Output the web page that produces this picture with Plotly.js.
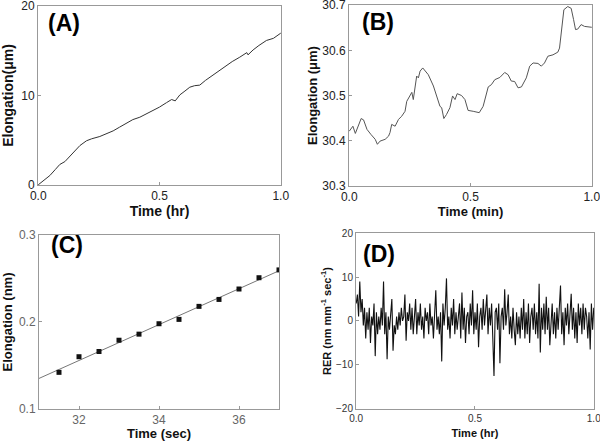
<!DOCTYPE html>
<html>
<head>
<meta charset="utf-8">
<script src="https://cdn.plot.ly/plotly-3.0.1.min.js"></script>
<style>html,body{margin:0;padding:0;background:#fff;}#chart{width:600px;height:441px;}</style>
</head>
<body>
<div id="chart"></div>
<script>
// Panel A: elongation over one hour
const timeA = [0, 0.02, 0.048, 0.07, 0.089, 0.11, 0.13, 0.15, 0.172, 0.199, 0.22, 0.254, 0.28, 0.309, 0.335, 0.364, 0.39, 0.419, 0.445, 0.474, 0.5, 0.529, 0.55, 0.565, 0.584, 0.605, 0.625, 0.645, 0.666, 0.69, 0.721, 0.75, 0.776, 0.8, 0.831, 0.86, 0.865, 0.886, 0.91, 0.941, 0.97, 1.0];
const elongA = [0, 0.45, 1.04, 1.7, 2.28, 2.6, 3.17, 3.7, 4.4, 4.93, 5.15, 5.41, 5.7, 6.04, 6.45, 6.9, 7.3, 7.57, 7.95, 8.28, 8.7, 9.2, 9.55, 9.4, 10.07, 10.5, 10.93, 11.1, 11.16, 11.7, 12.31, 12.85, 13.4, 13.8, 14.29, 14.8, 14.55, 15.1, 15.6, 16.16, 16.4, 16.98];

// Panel B: elongation over one minute
const timeB = [0.000, 0.015, 0.025, 0.034, 0.049, 0.059, 0.073, 0.089, 0.107, 0.116, 0.127, 0.148, 0.162, 0.168, 0.175, 0.189, 0.203, 0.216, 0.230, 0.237, 0.251, 0.258, 0.264, 0.271, 0.278, 0.285, 0.292, 0.303, 0.312, 0.326, 0.347, 0.360, 0.374, 0.381, 0.390, 0.401, 0.415, 0.426, 0.436, 0.445, 0.463, 0.477, 0.490, 0.511, 0.536, 0.552, 0.562, 0.573, 0.586, 0.600, 0.621, 0.641, 0.655, 0.668, 0.682, 0.696, 0.710, 0.723, 0.730, 0.744, 0.758, 0.778, 0.792, 0.805, 0.819, 0.840, 0.860, 0.867, 0.874, 0.885, 0.901, 0.915, 0.925, 0.933, 0.942, 0.956, 0.970, 1.000];
const elongB = [30.421, 30.432, 30.416, 30.429, 30.449, 30.446, 30.425, 30.414, 30.403, 30.392, 30.399, 30.403, 30.410, 30.418, 30.436, 30.432, 30.447, 30.454, 30.465, 30.487, 30.499, 30.507, 30.491, 30.521, 30.543, 30.539, 30.554, 30.561, 30.554, 30.546, 30.521, 30.499, 30.476, 30.473, 30.449, 30.458, 30.473, 30.499, 30.491, 30.504, 30.500, 30.491, 30.467, 30.465, 30.462, 30.476, 30.499, 30.519, 30.524, 30.535, 30.540, 30.551, 30.546, 30.532, 30.531, 30.517, 30.519, 30.532, 30.539, 30.565, 30.572, 30.571, 30.565, 30.572, 30.587, 30.590, 30.596, 30.605, 30.638, 30.690, 30.697, 30.693, 30.668, 30.646, 30.647, 30.657, 30.653, 30.651];

// Panel C: elongation over seconds with linear fit
const timeC = [31.5, 32, 32.5, 33, 33.5, 34, 34.5, 35, 35.5, 36, 36.5, 37];
const elongC = [0.142, 0.160, 0.166, 0.179, 0.186, 0.198, 0.203, 0.218, 0.226, 0.238, 0.251, 0.260];
const fitTimeC = [31, 37];
const fitElongC = [0.135, 0.259];

// Panel D: RER over one hour
const timeD = [0,0.005,0.01,0.015,0.02,0.025,0.03,0.035,0.04,0.045,
  0.05,0.055,0.06,0.065,0.07,0.075,0.08,0.085,0.09,0.095,
  0.1,0.105,0.11,0.115,0.12,0.125,0.13,0.135,0.14,0.145,
  0.15,0.155,0.16,0.165,0.17,0.175,0.18,0.185,0.19,0.195,
  0.2,0.205,0.21,0.215,0.22,0.225,0.23,0.235,0.24,0.245,
  0.25,0.255,0.26,0.265,0.27,0.275,0.28,0.285,0.29,0.295,
  0.3,0.305,0.31,0.315,0.32,0.325,0.33,0.335,0.34,0.345,
  0.35,0.355,0.36,0.365,0.37,0.375,0.38,0.385,0.39,0.395,
  0.4,0.405,0.41,0.415,0.42,0.425,0.43,0.435,0.44,0.445,
  0.45,0.455,0.46,0.465,0.47,0.475,0.48,0.485,0.49,0.495,
  0.5,0.505,0.51,0.515,0.52,0.525,0.53,0.535,0.54,0.545,
  0.55,0.555,0.56,0.565,0.57,0.575,0.58,0.585,0.59,0.595,
  0.6,0.605,0.61,0.615,0.62,0.625,0.63,0.635,0.64,0.645,
  0.65,0.655,0.66,0.665,0.67,0.675,0.68,0.685,0.69,0.695,
  0.7,0.705,0.71,0.715,0.72,0.725,0.73,0.735,0.74,0.745,
  0.75,0.755,0.76,0.765,0.77,0.775,0.78,0.785,0.79,0.795,
  0.8,0.805,0.81,0.815,0.82,0.825,0.83,0.835,0.84,0.845,
  0.85,0.855,0.86,0.865,0.87,0.875,0.88,0.885,0.89,0.895,
  0.9,0.905,0.91,0.915,0.92,0.925,0.93,0.935,0.94,0.945,
  0.95,0.955,0.96,0.965,0.97,0.975,0.98,0.985,0.99,0.995,1.0];
const rerD = [4, 6, 1, 9, 2, 5, -1, 3, -4, 2,
  -2, 3, -5, 1, -1, 4, -8, 2, -3, 1,
  -2, 3, -1, 9, -3, 2, -8.7, 1, -2, 3,
  5, -6.8, -1, -3, 1, -2, 2, -1, 3, 0,
  1, 6, -4.5, 2, 0, 4, -2, 3, -3, 1,
  5, -3, 2, -1, 4, -2, 1, -4, 3, 0,
  2, -3, 4, -1, 1, -4, 3, 7, -2, 1,
  -3, 2, -9.2, 4, -1, 3, 9.7, -2, 1, -4,
  3, -1, 5, -3, 2, -2, 1, 4, -4, 6.5,
  -2, 3, -5, 1, 2, -3, 4, -1, 7, -3,
  2, -2, 4, -6, 1, 3, -2, 5, -1, 2,
  6, -3, 3, -1, 4, -4, -12.5, 2, 3, -2,
  4, -9.6, 1, 3, -2, 7.2, -1, 2, 6, -3,
  1, -4, 3, -2, -5.5, 2, -3, 1, -4, 3,
  -2, 5, -4, 2, -3, 4, -5, 1, 3, -2,
  4, -3, 2, -4, 8.5, -7.2, 3, -2, 4, -3,
  5.5, -2, 3, -5.5, 1, 4, -3, 2, -4, 3,
  -2, 4, 8.1, -3, 2, -5.5, 3, -1, 4, -3,
  1, 6.2, -2, 3, -4, 2, -5, 4, -1, 3,
  -3, 4, -2, 3, 1, -4, 2, -6.5, 4, -2, 3];

const FONT = 'Liberation Sans, Arial, sans-serif';
const frameColor = '#999999';

function ax(extra) {
  return Object.assign({
    showgrid: false, zeroline: false, showline: true, mirror: true,
    linecolor: frameColor, linewidth: 1, ticks: 'inside', ticklen: 3,
    tickcolor: frameColor, automargin: false, ticklabeloverflow: 'allow',
    tickfont: {family: FONT, size: 12, color: '#222'}
  }, extra);
}
function ttl(text, size, standoff) {
  return {text: text, font: {family: FONT, size: size, color: '#111', weight: 'bold'}, standoff: standoff};
}
const grayTick = {family: FONT, size: 12, color: '#666'};
const smallTick = {family: FONT, size: 10, color: '#333'};
const panelFont = {family: FONT, size: 23, color: '#000', weight: 'bold'};

const traces = [
  {x: timeA, y: elongA, type: 'scatter', mode: 'lines', xaxis: 'x', yaxis: 'y',
   line: {color: '#333', width: 1}, hoverinfo: 'skip'},
  {x: timeB, y: elongB, type: 'scatter', mode: 'lines', xaxis: 'x2', yaxis: 'y2',
   line: {color: '#555', width: 1}, hoverinfo: 'skip'},
  {x: fitTimeC, y: fitElongC, type: 'scatter', mode: 'lines', xaxis: 'x3', yaxis: 'y3',
   line: {color: '#777', width: 1}, hoverinfo: 'skip'},
  {x: timeC, y: elongC, type: 'scatter', mode: 'markers', xaxis: 'x3', yaxis: 'y3',
   marker: {symbol: 'square', size: 5, color: '#111'}, hoverinfo: 'skip'},
  {x: timeD, y: rerD, type: 'scatter', mode: 'lines', xaxis: 'x4', yaxis: 'y4',
   line: {color: '#111', width: 1.1}, hoverinfo: 'skip'}
];

const layout = {
  width: 600, height: 441,
  margin: {l: 0, r: 0, t: 0, b: 0},
  paper_bgcolor: '#fff', plot_bgcolor: '#fff',
  showlegend: false,
  xaxis: ax({domain: [0.0633, 0.4683], anchor: 'y', range: [-0.001, 1.001], dtick: 0.5, tickformat: '.1f', title: ttl('Time (hr)', 14, 1)}),
  yaxis: ax({domain: [0.5805, 0.9864], anchor: 'x', range: [-0.02, 20.02], dtick: 10, title: ttl('Elongation(μm)', 14, 5)}),
  xaxis2: ax({domain: [0.5817, 0.9867], anchor: 'y2', range: [-0.001, 1.001], dtick: 0.5, tickformat: '.1f', title: ttl('Time (min)', 13, 2)}),
  yaxis2: ax({domain: [0.5782, 0.9887], anchor: 'x2', range: [30.2996, 30.7004], dtick: 0.1, tickformat: '.1f', title: ttl('Elongation (μm)', 13, 1)}),
  xaxis3: ax({domain: [0.065, 0.465], anchor: 'y3', range: [31, 37], tickvals: [32, 34, 36], tickfont: grayTick, title: ttl('Time (sec)', 13, 2)}),
  yaxis3: ax({domain: [0.0726, 0.4671], anchor: 'x3', range: [0.0998, 0.3002], dtick: 0.1, tickformat: '.1f', tickfont: grayTick, title: ttl('Elongation (nm)', 13, 6)}),
  xaxis4: ax({domain: [0.5933, 0.99], anchor: 'y4', range: [-0.001, 1.001], dtick: 0.5, tickformat: '.1f', tickfont: smallTick, title: ttl('Time (hr)', 11, 6)}),
  yaxis4: ax({domain: [0.0726, 0.4717], anchor: 'x4', range: [-20.04, 20.04], dtick: 10, tickfont: smallTick, title: ttl('RER (nm mm<sup>-1</sup> sec<sup>-1</sup>)', 11, 2)}),
  annotations: [
    {text: '(A)', xref: 'x domain', yref: 'y domain', x: 0.035, y: 0.905, xanchor: 'left', yanchor: 'middle', showarrow: false, font: panelFont},
    {text: '(B)', xref: 'x2 domain', yref: 'y2 domain', x: 0.045, y: 0.905, xanchor: 'left', yanchor: 'middle', showarrow: false, font: panelFont},
    {text: '(C)', xref: 'x3 domain', yref: 'y3 domain', x: 0.04, y: 0.94, xanchor: 'left', yanchor: 'middle', showarrow: false, font: panelFont},
    {text: '(D)', xref: 'x4 domain', yref: 'y4 domain', x: 0.02, y: 0.88, xanchor: 'left', yanchor: 'middle', showarrow: false, font: panelFont}
  ]
};

Plotly.newPlot('chart', traces, layout, {staticPlot: true, displayModeBar: false});
</script>
</body>
</html>
